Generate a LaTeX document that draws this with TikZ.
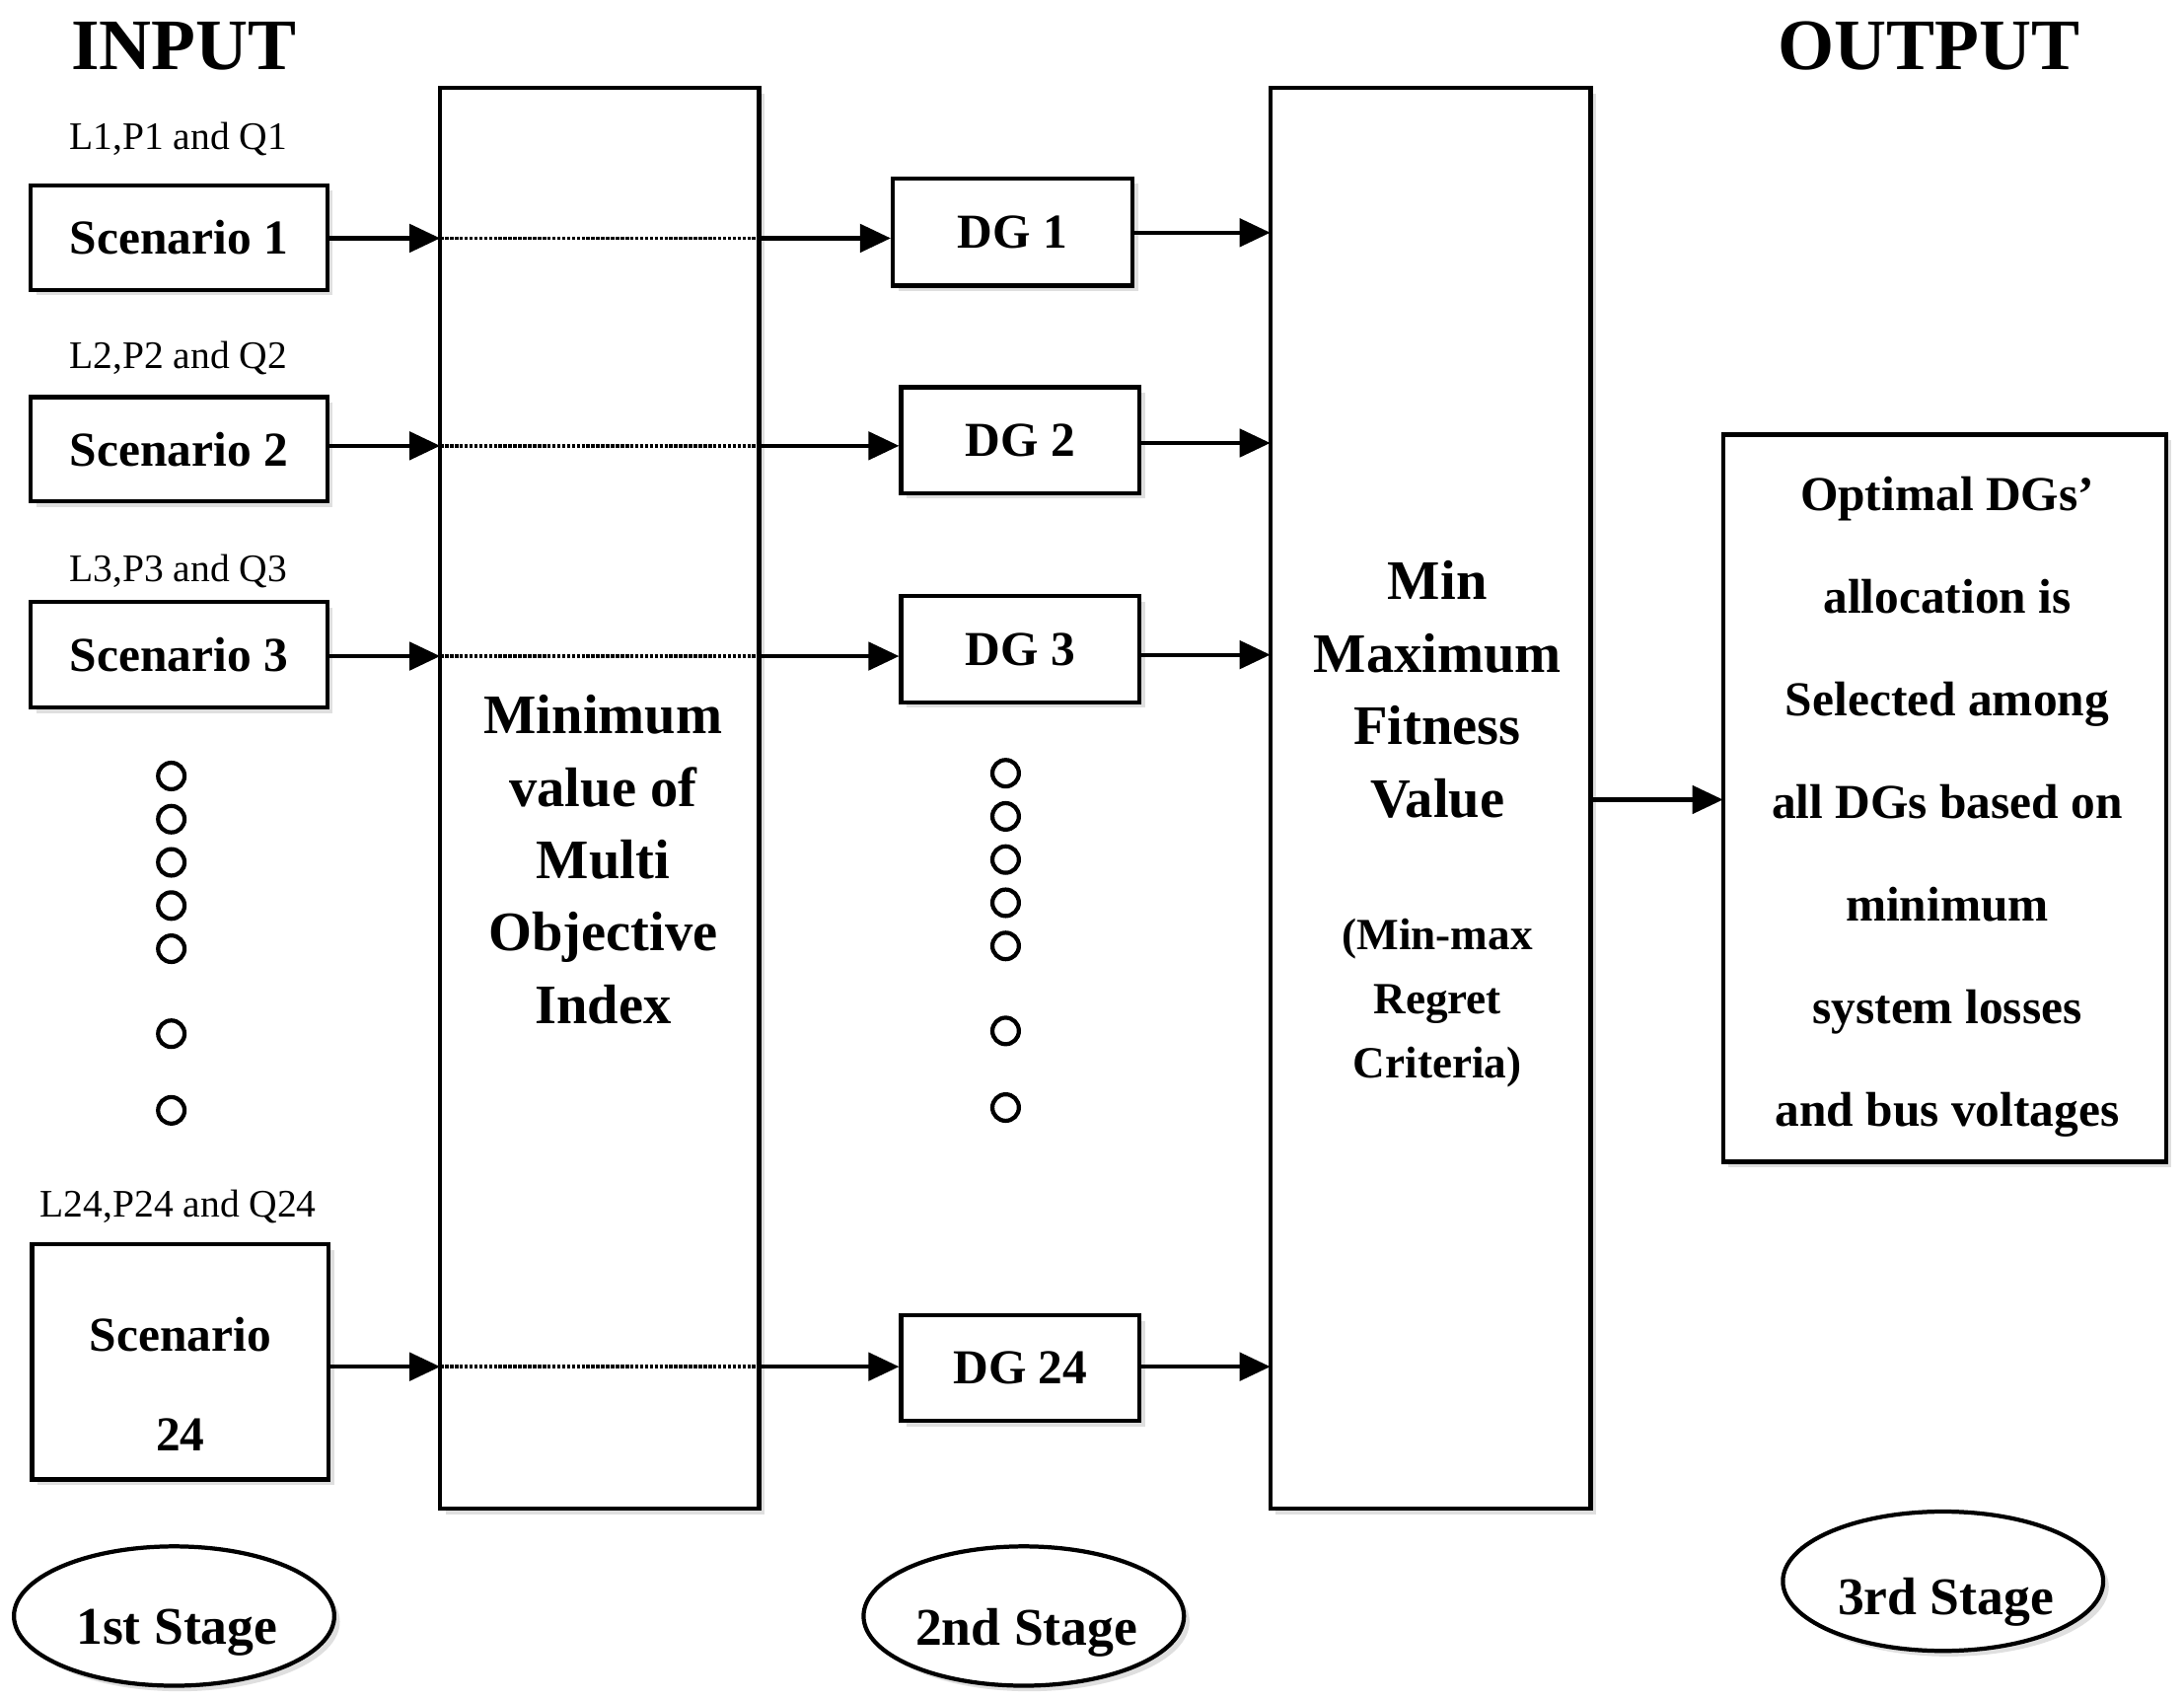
\documentclass[tikz,border=0pt]{standalone}
\usepackage{fontspec}
\setmainfont{Liberation Serif}
\usetikzlibrary{arrows.meta,shadows,shapes.geometric}
\begin{document}
\begin{tikzpicture}[x=1pt,y=-1pt,
 box/.style={draw,line width=3pt,fill=white,drop shadow={shadow xshift=4pt,shadow yshift=-4pt,opacity=0.25},inner sep=0pt},
 bt/.style={font=\bfseries\fontsize{35}{42}\selectfont,align=center},
 lab/.style={font=\fontsize{28}{32}\selectfont},
 arr/.style={line width=3pt,-{Triangle[length=22pt,width=20pt]}},
 dot/.style={line width=2.5pt,densely dotted},
 circ/.style={draw,line width=3pt,circle,minimum size=19pt,inner sep=0pt},
 stg/.style={draw,line width=3pt,ellipse,minimum width=230pt,minimum height=100pt,fill=white,drop shadow={shadow xshift=4pt,shadow yshift=-4pt,opacity=0.25},font=\bfseries\fontsize{38}{44}\selectfont}]
\useasboundingbox (0,0) rectangle (1568,1220);
\node[font=\bfseries\fontsize{52}{60}\selectfont] (in) at (132,33) {INPUT};
\node[font=\bfseries\fontsize{52}{60}\selectfont] (out) at (1385,33) {OUTPUT};
\node[lab] (l1) at (128,100) {L1,P1 and Q1};
\node[lab] (l2) at (128,257) {L2,P2 and Q2};
\node[lab] (l3) at (128,410) {L3,P3 and Q3};
\node[lab] (l24) at (128,866) {L24,P24 and Q24};
\node[box,bt,minimum width=213pt,minimum height=75pt] (s1) at (128.5,170.5) {Scenario 1};
\node[box,bt,minimum width=213pt,minimum height=75pt] (s2) at (128.5,322.5) {Scenario 2};
\node[box,bt,minimum width=213pt,minimum height=76pt] (s3) at (128.5,470) {Scenario 3};
\node[box,bt,minimum width=213pt,minimum height=169pt] (s24) at (129.5,977.5) {};
\node[bt] (s24t) at (129.5,958) {Scenario};
\node[bt] (s24n) at (129.5,1030) {24};
\node[box,minimum width=229pt,minimum height=1020pt] (b1) at (430.5,573) {};
\node[bt,font=\bfseries\fontsize{40}{52}\selectfont] (b1t) at (433,617) {Minimum\\value of\\Multi\\Objective\\Index};
\node[box,bt,minimum width=172pt,minimum height=77pt] (d1) at (727,166.5) {DG 1};
\node[box,bt,minimum width=171pt,minimum height=76pt] (d2) at (732.5,316) {DG 2};
\node[box,bt,minimum width=171pt,minimum height=76pt] (d3) at (732.5,466) {DG 3};
\node[box,bt,minimum width=171pt,minimum height=76pt] (d24) at (732.5,982) {DG 24};
\node[box,minimum width=230pt,minimum height=1020pt] (b2) at (1027,573) {};
\node[bt,font=\bfseries\fontsize{40}{52}\selectfont] (b2t) at (1032,495) {Min\\Maximum\\Fitness\\Value};
\node[bt,font=\bfseries\fontsize{32}{46}\selectfont] (b2s) at (1032,720) {(Min-max\\Regret\\Criteria)};
\node[box,minimum width=318pt,minimum height=522pt] (o) at (1396,573) {};
\node[bt,font=\bfseries\fontsize{35}{73.7}\selectfont] (ot) at (1398,579) {Optimal DGs'\\allocation is\\Selected among\\all DGs based on\\minimum\\system losses\\and bus voltages};
\foreach \y/\s/\d in {171/s1/d1,320/s2/d2,471/s3/d3,981/s24/d24}{
 \coordinate (a\s) at (316,\y); \coordinate (b\s) at (545,\y);
 \draw[arr] (\s.east|-a\s) -- (a\s);
 \draw[dot] (a\s) -- (b\s);
 \draw[arr] (b\s) -- (\d.west|-b\s);
}
\foreach \d/\y in {d1/167,d2/318,d3/470,d24/981}{
 \coordinate (c\d) at (912,\y);
 \draw[arr] (\d.east|-c\d) -- (c\d);
}
\coordinate (oc) at (1237,574);
\draw[arr] (b2.east|-oc) -- (oc);
\foreach \y [count=\i] in {557,588,619,650,681,742,797}{\node[circ] (p\i) at (123,\y) {};}
\foreach \y [count=\i] in {555,586,617,648,679,740,795}{\node[circ] (q\i) at (722,\y) {};}
\node[stg] (e1) at (125,1160) {};
\node[font=\bfseries\fontsize{38}{44}\selectfont] (e1t) at (127,1172) {1st Stage};
\node[stg] (e2) at (735,1160) {};
\node[font=\bfseries\fontsize{38}{44}\selectfont] (e2t) at (737,1172) {2nd Stage};
\node[stg] (e3) at (1395,1135) {};
\node[font=\bfseries\fontsize{38}{44}\selectfont] (e3t) at (1397,1150) {3rd Stage};
\end{tikzpicture}
\end{document}
